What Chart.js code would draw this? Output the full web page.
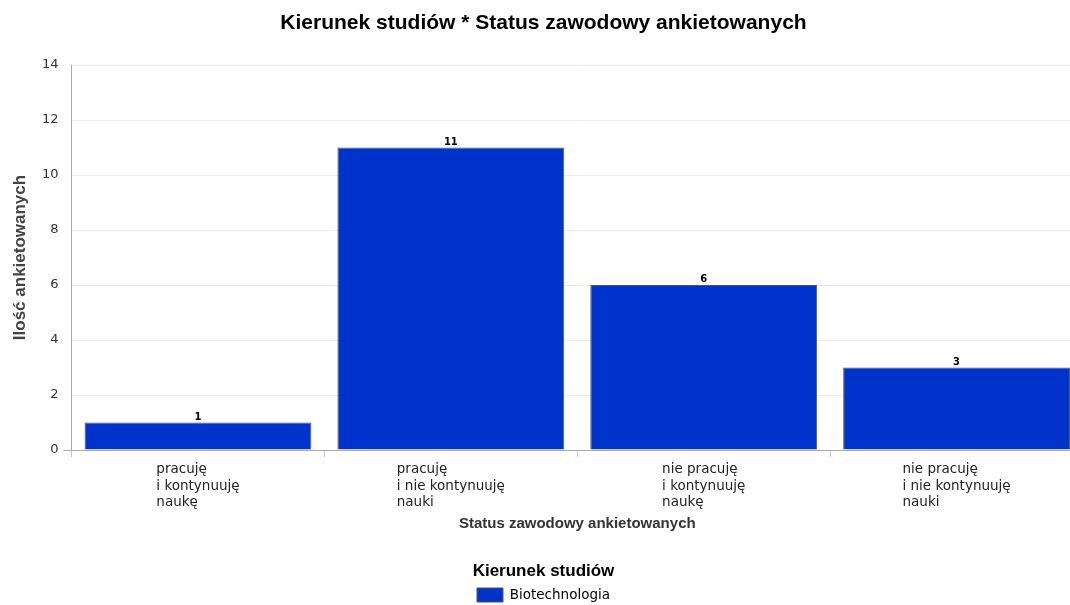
<!DOCTYPE html>
<html>
<head>
<meta charset="utf-8">
<script src="https://cdn.jsdelivr.net/npm/chart.js@4"></script>
<style>
  html, body { margin: 0; padding: 0; background: #fff; overflow: hidden; }
  #wrap { width: 1086px; height: 612px; }
</style>
</head>
<body>
<div id="wrap"><canvas id="chart"></canvas></div>
<script>
// Dane wykresu
var kategorie = [
    ['pracuję', 'i kontynuuję', 'naukę'],
    ['pracuję', 'i nie kontynuuję', 'nauki'],
    ['nie pracuję', 'i kontynuuję', 'naukę'],
    ['nie pracuję', 'i nie kontynuuję', 'nauki']
];
var biotechnologia = [1, 11, 6, 3];
var osY = [0, 2, 4, 6, 8, 10, 12, 14];

// Etykiety osi X: wiersze wyrównane do lewej, blok wyśrodkowany pod kategorią
var etykietyX = {
    id: 'etykietyX',
    afterDraw: function (chart) {
        var ctx = chart.ctx, sx = chart.scales.x;
        ctx.save();
        ctx.font = '13.5px "DejaVu Sans"';
        ctx.fillStyle = '#222';
        ctx.textAlign = 'left';
        ctx.textBaseline = 'alphabetic';
        kategorie.forEach(function (linie, i) {
            var cx = sx.getPixelForValue(i);
            var maxW = Math.max.apply(null, linie.map(function (l) { return ctx.measureText(l).width; }));
            linie.forEach(function (l, j) {
                ctx.fillText(l, cx - maxW / 2, sx.top + 23 + j * 16.5);
            });
        });
        ctx.restore();
    }
};

// Wartości nad słupkami
var wartosci = {
    id: 'wartosci',
    afterDatasetsDraw: function (chart) {
        var ctx = chart.ctx;
        ctx.save();
        ctx.font = 'bold 10px "DejaVu Sans"';
        ctx.fillStyle = '#000';
        ctx.textAlign = 'center';
        ctx.textBaseline = 'alphabetic';
        chart.getDatasetMeta(0).data.forEach(function (bar, i) {
            ctx.fillText(String(biotechnologia[i]), bar.x, bar.y - 3);
        });
        ctx.restore();
    }
};

new Chart(document.getElementById('chart').getContext('2d'), {
    type: 'bar',
    data: {
        labels: kategorie,
        datasets: [{
            label: 'Biotechnologia',
            data: biotechnologia,
            backgroundColor: '#0033cc',
            borderColor: '#555',
            borderWidth: 1,
            categoryPercentage: 1,
            barPercentage: 0.897
        }]
    },
    plugins: [etykietyX, wartosci],
    options: {
        responsive: true, maintainAspectRatio: false, animation: false,
        devicePixelRatio: 1,
        layout: { padding: { left: 4, right: 3, top: 0, bottom: 0 } },
        scales: {
            x: {
                grid: { offset: true, drawOnChartArea: false, tickLength: 7, color: '#c8c8c8' },
                border: { color: '#aaa' },
                ticks: { color: 'transparent', font: { family: 'DejaVu Sans', size: 13.5, lineHeight: 16.5 / 13.5 }, padding: 1 },
                title: { display: true, text: 'Status zawodowy ankietowanych', color: '#333',
                         font: { family: 'Liberation Sans', size: 15, weight: 'bold' }, padding: { top: 6.5, bottom: 0 } }
            },
            y: {
                min: 0, max: 14,
                afterBuildTicks: function (axis) { axis.ticks = osY.map(function (v) { return { value: v }; }); },
                grid: { color: '#ebebeb', tickLength: 8,
                        tickColor: function (c) { return c.tick && c.tick.value === 0 ? '#aaa' : 'transparent'; } },
                border: { color: '#aaa' },
                ticks: { color: '#333', font: { family: 'DejaVu Sans', size: 13 }, padding: 5 },
                title: { display: true, text: 'Ilość ankietowanych', color: '#444',
                         font: { family: 'Liberation Sans', size: 17, weight: 'bold' }, padding: { top: 6, bottom: 6.6 } }
            }
        },
        plugins: {
            title: {
                display: true, text: 'Kierunek studiów * Status zawodowy ankietowanych', color: '#000',
                font: { family: 'Liberation Sans', size: 21, weight: 'bold' }, padding: { top: 11, bottom: 28.8 }
            },
            legend: {
                position: 'bottom',
                title: { display: true, text: 'Kierunek studiów', color: '#000',
                         font: { family: 'Liberation Sans', size: 17, weight: 'bold' }, padding: { top: 29.5, bottom: 1.1 } },
                labels: { boxWidth: 26, boxHeight: 14, color: '#000', padding: 4,
                          font: { family: 'DejaVu Sans', size: 13.5 } }
            },
            tooltip: { enabled: false }
        }
    }
});
</script>
</body>
</html>
